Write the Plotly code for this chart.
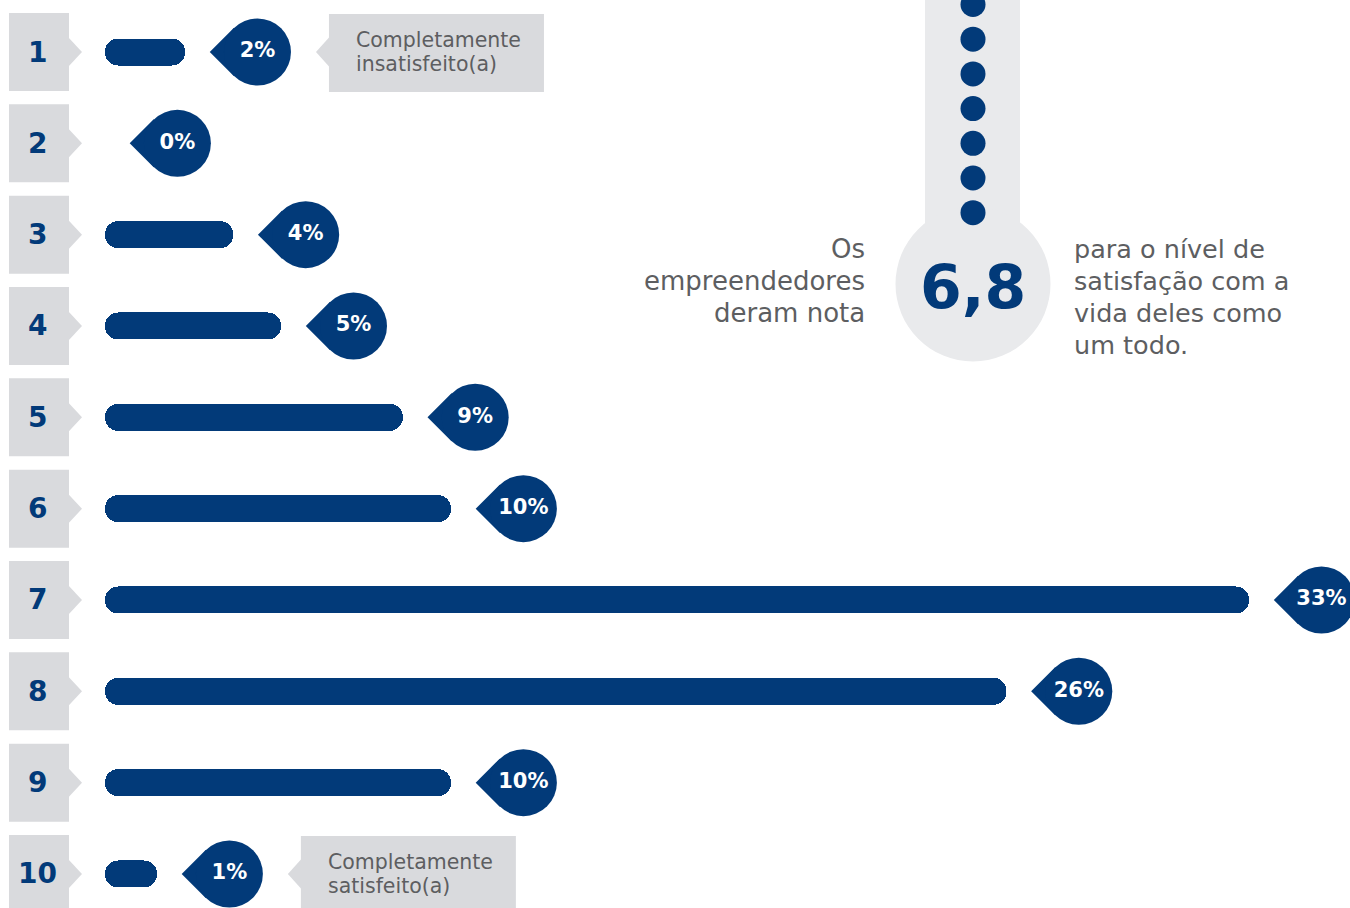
import plotly.graph_objects as go

# ---------------- data ----------------
ratings = [1, 2, 3, 4, 5, 6, 7, 8, 9, 10]
rating_labels = ["1", "2", "3", "4", "5", "6", "7", "8", "9", "10"]
shares = [2.31, 0.0, 3.70, 5.08, 8.59, 9.98, 33.0, 26.0, 9.98, 1.5]
share_labels = ["2%", "0%", "4%", "5%", "9%", "10%", "33%", "26%", "10%", "1%"]
note_rows = [1, 10]
note_lines = [["Completamente", "insatisfeito(a)"], ["Completamente", "satisfeito(a)"]]
score_text = "6,8"
score_left = ["Os", "empreendedores", "deram nota"]
score_right = ["para o nível de", "satisfação com a", "vida deles como", "um todo."]

# ---------------- styles ----------------
NAVY = "#023a79"
BOXGRAY = "#d9dadd"
THERMO = "#e9eaec"
TXT = "#5d5e61"
FONT = "DejaVu Sans"
W, H = 1350, 908
X0 = 105.0        # px where bars start
K = 34.67         # px per percentage point
Y0 = 52.0         # px centre of first row
KY = 91.33        # px per row
R = 33.5          # drop radius px
GAP = 25.0        # gap bar end -> drop tip

def px_x(v):
    return X0 + v * K

fig = go.Figure()

# bars
fig.add_trace(go.Bar(
    x=shares, y=ratings, base=0, orientation="h",
    width=27 / KY,
    marker=dict(color=NAVY, cornerradius=13.5, line=dict(width=0)),
    hoverinfo="skip", showlegend=False,
))

# drop labels: diamond (pointed tip) + circle
tip = [v + GAP / K for v in shares]
diamond_x = [t + (R * 2 ** 0.5 / 2) / K for t in tip]
circle_x = [t + (R * 2 ** 0.5) / K for t in tip]
fig.add_trace(go.Scatter(
    x=diamond_x, y=ratings, mode="markers",
    marker=dict(symbol="diamond", size=(R * 2 ** 0.5 / 2) / 0.65 + 0.5, color=NAVY, line=dict(width=0)),
    hoverinfo="skip", showlegend=False, cliponaxis=False,
))
fig.add_trace(go.Scatter(
    x=circle_x, y=ratings, mode="markers+text",
    marker=dict(symbol="circle", size=2 * R, color=NAVY, line=dict(width=0)),
    text=share_labels, textposition="middle center",
    textfont=dict(family=FONT, size=21, color="white", weight="bold"),
    hoverinfo="skip", showlegend=False, cliponaxis=False,
))

# thermometer dots on pixel axes
dot_y = [4.5 + 34.7 * k for k in range(7)]
fig.add_trace(go.Scatter(
    x=[973] * len(dot_y), y=dot_y, xaxis="x2", yaxis="y2", mode="markers",
    marker=dict(size=25, color=NAVY, line=dict(width=0)),
    hoverinfo="skip", showlegend=False, cliponaxis=False,
))

shapes = []
annotations = []

# rating boxes with pointer
for r, lab in zip(ratings, rating_labels):
    shapes.append(dict(type="rect", xref="x2", yref="y", x0=9, x1=69,
                       y0=r - 39 / KY, y1=r + 39 / KY,
                       fillcolor=BOXGRAY, line=dict(width=0), layer="below"))
    shapes.append(dict(type="path", xref="x2", yref="y",
                       path=f"M 68 {r - 15 / KY} L 82 {r} L 68 {r + 15 / KY} Z",
                       fillcolor=BOXGRAY, line=dict(width=0), layer="below"))
    annotations.append(dict(xref="x2", yref="y", x=37, y=r, text=lab, showarrow=False,
                            xanchor="center", yanchor="middle",
                            font=dict(family=FONT, size=28, color=NAVY, weight="bold")))

# note boxes
for row, lines in zip(note_rows, note_lines):
    v = shares[row - 1]
    arrow_tip = px_x(v) + GAP + R * 2 ** 0.5 + R + 25
    left = arrow_tip + 13
    shapes.append(dict(type="rect", xref="x2", yref="y", x0=left, x1=left + 215,
                       y0=row - 38 / KY, y1=row + 40 / KY,
                       fillcolor=BOXGRAY, line=dict(width=0), layer="below"))
    shapes.append(dict(type="path", xref="x2", yref="y",
                       path=f"M {left + 0.5} {row - 15 / KY} L {arrow_tip} {row} L {left + 0.5} {row + 15 / KY} Z",
                       fillcolor=BOXGRAY, line=dict(width=0), layer="below"))
    for i, t in enumerate(lines):
        annotations.append(dict(xref="x2", yref="y", x=left + 25, y=row + (-12 + 24 * i) / KY,
                                text=t, showarrow=False, xanchor="left", yanchor="middle",
                                font=dict(family=FONT, size=20.5, color=TXT)))

# thermometer
shapes.append(dict(type="rect", xref="x2", yref="y2", x0=925, x1=1020, y0=-5, y1=284,
                   fillcolor=THERMO, line=dict(width=0), layer="below"))
shapes.append(dict(type="circle", xref="x2", yref="y2", x0=895.5, x1=1050.5, y0=206.5, y1=361.5,
                   fillcolor=THERMO, line=dict(width=0), layer="below"))
annotations.append(dict(xref="x2", yref="y2", x=973, y=287, text=score_text, showarrow=False,
                        xanchor="center", yanchor="middle",
                        font=dict(family=FONT, size=60, color=NAVY, weight="bold")))
for i, t in enumerate(score_left):
    annotations.append(dict(xref="x2", yref="y2", x=867, y=249 + 32 * i, text=t, showarrow=False,
                            xanchor="right", yanchor="middle",
                            font=dict(family=FONT, size=26, color=TXT)))
for i, t in enumerate(score_right):
    annotations.append(dict(xref="x2", yref="y2", x=1072, y=249 + 32 * i, text=t, showarrow=False,
                            xanchor="left", yanchor="middle",
                            font=dict(family=FONT, size=25.5, color=TXT)))

hidden = dict(showgrid=False, zeroline=False, showticklabels=False, showline=False, ticks="", fixedrange=True)
fig.update_layout(
    width=W, height=H, margin=dict(l=0, r=0, t=0, b=0, pad=0),
    paper_bgcolor="white", plot_bgcolor="rgba(0,0,0,0)",
    xaxis=dict(range=[-X0 / K, (W - X0) / K], domain=[0, 1], **hidden),
    yaxis=dict(range=[10 + (H - Y0 - 9 * KY) / KY, 1 - Y0 / KY], domain=[0, 1], **hidden),
    xaxis2=dict(range=[0, W], overlaying="x", anchor="y2", **hidden),
    yaxis2=dict(range=[H, 0], overlaying="y", anchor="x2", **hidden),
    shapes=shapes, annotations=annotations, showlegend=False,
    bargap=0,
)

fig.write_html("out.html", config={"displayModeBar": False, "staticPlot": True},
               post_script="document.body.style.margin='0';document.body.style.overflow='hidden';")
